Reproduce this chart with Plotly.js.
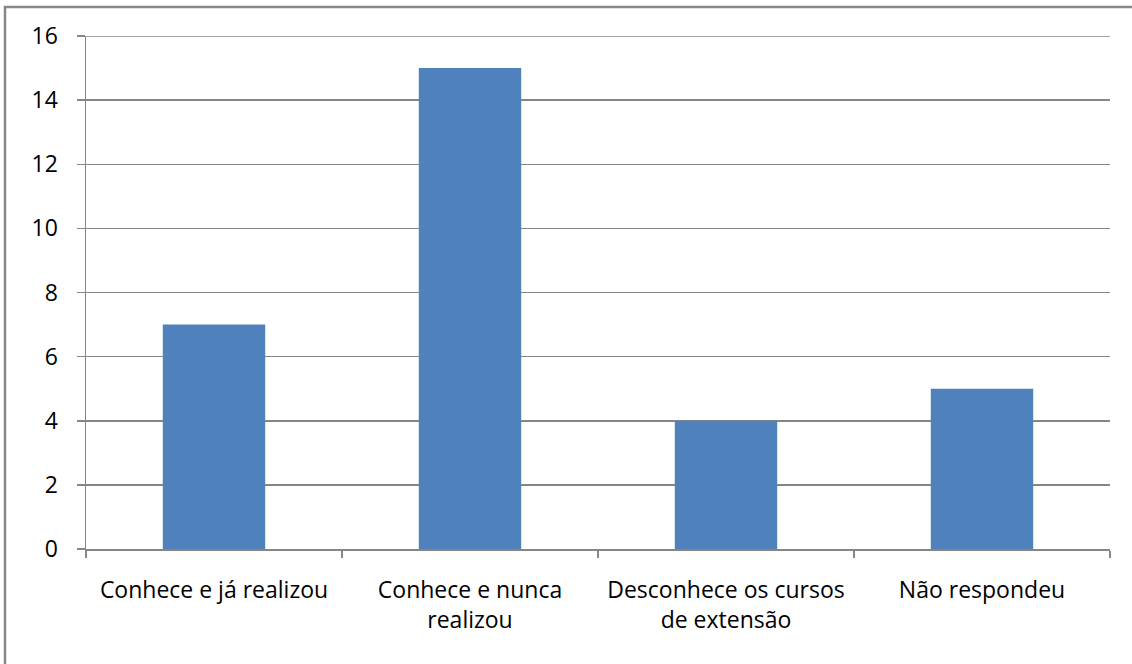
<!DOCTYPE html>
<html><head><meta charset="utf-8">
<script src="https://cdn.plot.ly/plotly-3.0.1.min.js"></script>
<style>body{margin:0;background:#fff}#c{width:1132px;height:664px}</style>
</head><body><div id="c"></div>
<script>
const categories = ["Conhece e já realizou", "Conhece e nunca<br>realizou", "Desconhece os cursos<br>de extensão", "Não respondeu"];
const values = [7, 15, 4, 5];
const yTicks = [0, 2, 4, 6, 8, 10, 12, 14, 16];

const font = {family: "Open Sans, Liberation Sans, sans-serif", size: 23, color: "#000"};
const L = 86, R = 22, T = 36, B = 115, W = 1132, H = 664;
const pw = W - L - R, ph = H - T - B;

Plotly.newPlot("c", [{
  type: "bar", x: categories, y: values,
  marker: {color: "#4F81BD", line: {width: 0}},
  hoverinfo: "skip"
}], {
  width: W, height: H,
  margin: {l: L, r: R, t: T, b: B, pad: 0},
  paper_bgcolor: "#fff", plot_bgcolor: "#fff",
  bargap: 0.6,
  showlegend: false,
  font: font,
  xaxis: {
    type: "category", tickson: "boundaries", ticks: "outside", ticklen: 7,
    tickcolor: "#868686", tickwidth: 1.5, showline: true, linecolor: "#868686", linewidth: 1.5,
    showgrid: false, tickfont: font, ticklabelstandoff: 20, automargin: false
  },
  yaxis: {
    range: [0, 16], tickvals: yTicks, ticktext: yTicks.map(String),
    ticks: "outside", ticklen: 8, tickcolor: "#868686", tickwidth: 1.5,
    showline: true, linecolor: "#868686", linewidth: 1.5,
    showgrid: true, gridcolor: "#868686", gridwidth: 1.5, zeroline: false,
    tickfont: font, ticklabelstandoff: 14, automargin: false
  },
  shapes: [{
    type: "line", xref: "paper", yref: "y", layer: "below",
    x0: 0, x1: 1, y0: yTicks[yTicks.length - 1], y1: yTicks[yTicks.length - 1],
    line: {color: "#868686", width: 1.5}
  }, {
    type: "rect", xref: "paper", yref: "paper", layer: "above",
    x0: (5 - L) / pw, x1: (1140 - L) / pw,
    y0: (H - B - 680) / ph, y1: (H - B - 7) / ph,
    line: {color: "#878787", width: 2.5}, fillcolor: "rgba(0,0,0,0)"
  }]
}, {displayModeBar: false, staticPlot: true});
</script></body></html>
